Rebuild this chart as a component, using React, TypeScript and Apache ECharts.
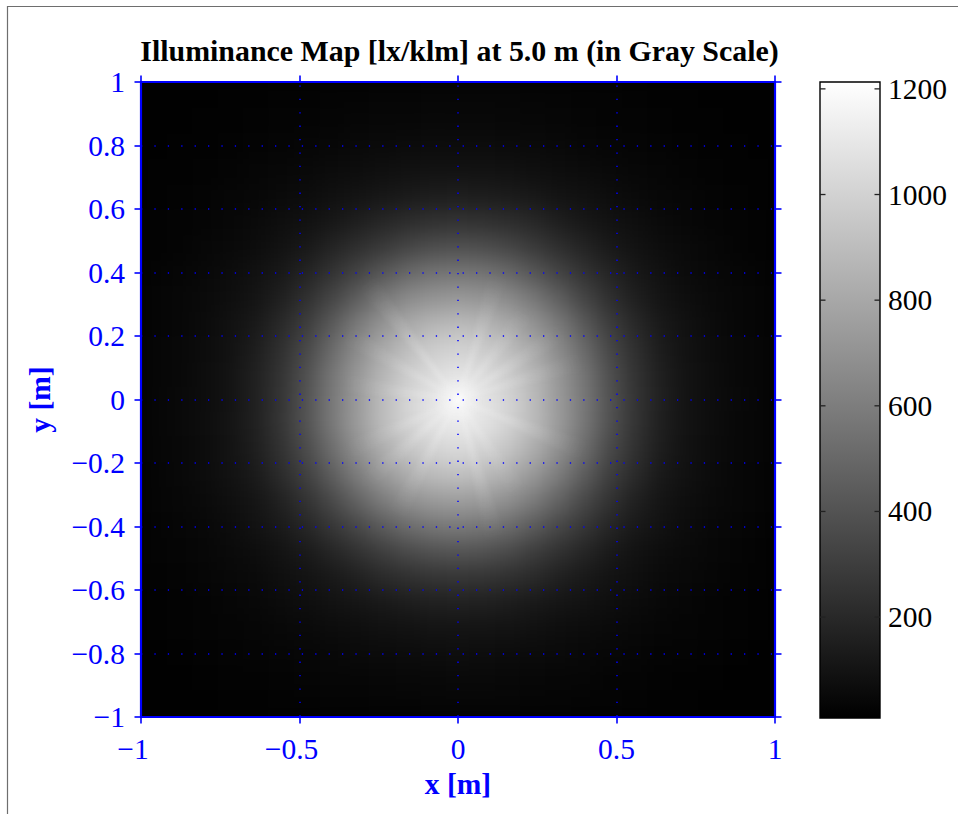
import React, { useEffect, useRef } from "react";
import * as echarts from "echarts";

const titleText = "Illuminance Map [lx/klm] at 5.0 m (in Gray Scale)";
const xName = "x [m]";
const yName = "y [m]";
const colorTicks = [200, 400, 600, 800, 1000, 1200];
const colorRange = [9, 1213];

// illuminance [lx/klm] sampled on a 25 x 25 raster, top row (y = +1) first, left to right
const illuminance: number[][] = [
  [13,14,15,17,18,22,25,27,29,31,33,35,36,36,35,33,31,29,27,24,20,17,15,14,13],
  [14,15,17,20,23,26,29,34,38,41,43,46,47,46,44,41,38,34,29,26,23,20,17,15,14],
  [15,17,20,25,29,33,38,44,51,58,62,65,66,65,63,58,52,44,38,33,29,25,20,17,15],
  [17,20,25,30,35,41,50,60,70,81,88,93,95,93,89,82,71,61,51,42,35,29,25,20,17],
  [19,23,29,36,43,55,68,85,100,117,133,146,150,147,135,120,100,87,70,56,44,36,29,23,19],
  [22,27,34,43,56,73,91,117,150,190,218,240,245,240,220,192,150,118,92,74,57,44,34,27,22],
  [25,30,40,53,68,92,124,174,225,280,335,372,385,372,338,282,226,176,125,93,69,54,40,30,25],
  [28,36,46,64,90,122,176,245,325,415,495,545,562,545,495,415,325,247,178,122,90,63,46,36,28],
  [31,40,56,76,104,155,230,330,450,570,660,705,725,708,662,572,452,332,232,156,104,74,55,40,31],
  [33,44,62,90,128,200,290,425,575,700,800,860,885,862,802,700,575,426,290,200,126,88,61,44,33],
  [36,46,66,96,145,230,345,505,660,800,905,970,1000,972,907,800,660,506,346,230,143,95,66,46,36],
  [37,49,69,100,158,252,382,556,715,865,975,1050,1090,1052,977,866,716,557,384,252,156,99,69,49,37],
  [37,50,70,101,160,254,396,570,730,890,1010,1090,1170,1090,1010,890,730,570,396,254,160,101,70,50,37],
  [37,50,70,102,162,260,395,570,735,890,1005,1085,1125,1085,1005,890,735,567,390,256,156,99,69,49,37],
  [36,47,67,98,150,238,358,520,680,825,935,1005,1040,1005,935,825,680,517,355,235,144,95,66,46,36],
  [34,46,64,92,134,212,305,445,590,720,825,890,915,890,825,720,590,442,302,208,128,89,61,44,33],
  [32,42,58,78,110,165,245,350,470,590,685,735,755,735,685,590,470,348,243,162,106,76,56,41,31],
  [29,38,48,66,95,130,190,265,345,440,520,565,585,565,520,440,345,262,186,128,92,65,47,37,28],
  [26,32,42,55,72,97,132,186,240,300,360,395,410,395,360,298,238,184,132,96,72,55,41,31,25],
  [23,28,36,45,58,78,98,126,160,205,235,260,265,258,236,205,160,126,98,78,58,45,35,28,22],
  [20,25,30,38,47,59,74,92,108,128,145,160,166,160,146,128,107,92,73,59,47,38,30,24,19],
  [18,22,26,31,38,45,55,66,77,88,96,102,105,103,97,89,77,66,55,46,38,31,26,21,17],
  [16,18,22,26,31,36,41,47,56,62,68,71,73,71,68,62,56,47,40,35,30,26,21,18,15],
  [15,16,18,21,24,28,31,36,39,43,46,49,51,50,47,43,39,35,30,27,23,20,17,15,14],
  [14,15,16,17,19,21,24,27,29,31,34,36,38,37,36,33,31,28,26,23,20,17,15,14,13],
];

// light rays leaving the centre of the spot
const rayAngles = [17, 33, 52, 72, 128, 150, 172, 205, 222, 242, 285, 303, 338];
const rayLengths = [0.42, 0.4, 0.36, 0.42, 0.48, 0.42, 0.38, 0.4, 0.4, 0.42, 0.46, 0.36, 0.44];
const rayStrengths = [0.2, 0.24, 0.24, 0.26, 0.26, 0.2, 0.2, 0.2, 0.24, 0.24, 0.26, 0.2, 0.24];
const glowRadius = 0.08;

const FONT = "Liberation Serif";
const BLUE = "#0000ff";
const PLOT = { left: 141, top: 82, width: 634, height: 635 };
const BAR = { left: 820, top: 82, width: 60, height: 636 };
const TICK_SIZE = 29.5;
const BAR_TICK_LEN = 5.5;

const signed = (v: number) => (v < 0 ? "\u2212" : "") + Math.abs(v);

const hiddenAxis = { type: "value", min: -1, max: 1, show: false };

const heatOption: any = {
  animation: false,
  backgroundColor: "#000",
  grid: { ...PLOT },
  xAxis: { type: "category", data: illuminance[0].map((_, i) => String(i)), show: false },
  yAxis: { type: "category", data: illuminance.map((_, i) => String(i)), show: false, inverse: true },
  visualMap: {
    show: false,
    min: colorRange[0],
    max: colorRange[1],
    dimension: 2,
    inRange: { color: ["#000000", "#ffffff"] },
  },
  series: [
    {
      type: "heatmap",
      data: illuminance.flatMap((row, j) => row.map((v, i) => [i, j, v])),
      itemStyle: { borderWidth: 0 },
    },
  ],
};

const rayOption: any = {
  animation: false,
  grid: { ...PLOT },
  xAxis: hiddenAxis,
  yAxis: hiddenAxis,
  series: [
    {
      type: "custom",
      clip: true,
      silent: true,
      data: rayAngles.map((a, i) => [a, rayLengths[i], rayStrengths[i]]),
      renderItem: (_: any, api: any) => {
        const a = (api.value(0) * Math.PI) / 180;
        const len = api.value(1);
        const o = api.coord([0, 0]);
        const tip = api.coord([len * Math.cos(a), len * Math.sin(a)]);
        const w = 0.032;
        const side1 = api.coord([len * Math.cos(a) - w * Math.sin(a), len * Math.sin(a) + w * Math.cos(a)]);
        const side2 = api.coord([len * Math.cos(a) + w * Math.sin(a), len * Math.sin(a) - w * Math.cos(a)]);
        const s = api.value(2);
        return {
          type: "polygon",
          shape: { points: [o, side1, side2] },
          style: {
            fill: new echarts.graphic.LinearGradient(
              o[0], o[1], tip[0], tip[1],
              [
                { offset: 0, color: `rgba(255,255,255,${s})` },
                { offset: 0.6, color: `rgba(255,255,255,${s * 0.3})` },
                { offset: 1, color: "rgba(255,255,255,0)" },
              ],
              true,
            ),
          },
        };
      },
    },
    {
      type: "custom",
      silent: true,
      data: [[0, 0, glowRadius]],
      renderItem: (_: any, api: any) => {
        const o = api.coord([api.value(0), api.value(1)]);
        const edge = api.coord([api.value(0) + api.value(2), api.value(1)]);
        const r = edge[0] - o[0];
        return {
          type: "circle",
          shape: { cx: o[0], cy: o[1], r },
          style: {
            fill: new echarts.graphic.RadialGradient(
              0.5, 0.5, 0.5,
              [
                { offset: 0, color: "rgba(255,255,255,0.85)" },
                { offset: 0.3, color: "rgba(255,255,255,0.3)" },
                { offset: 1, color: "rgba(255,255,255,0)" },
              ],
            ),
          },
        };
      },
    },
  ],
};

const plotTick = { show: true, inside: false, length: 6.5, lineStyle: { color: BLUE, width: 1.6 } };
const plotLine = { show: true, onZero: false, lineStyle: { color: BLUE, width: 2.2 } };

const axesOption: any = {
  animation: false,
  textStyle: { fontFamily: FONT },
  title: {
    text: titleText,
    left: 454.5,
    top: 30,
    textAlign: "center",
    textStyle: { fontFamily: FONT, fontSize: 29.9, fontWeight: "bold", color: "#000" },
  },
  grid: [
    { ...PLOT },
    { ...BAR },
  ],
  graphic: [
    {
      type: "polyline",
      shape: { points: [[7.5, 814], [7.5, 6.5], [958, 6.5]] },
      style: { stroke: "#6e6e6e", lineWidth: 1.2, fill: "none" },
      silent: true,
    },
  ],
  xAxis: [
    {
      gridIndex: 0,
      type: "value",
      position: "bottom",
      min: -1,
      max: 1,
      interval: 0.5,
      name: xName,
      nameLocation: "middle",
      nameGap: 52,
      nameTextStyle: { fontFamily: FONT, fontSize: TICK_SIZE, fontWeight: "bold", color: BLUE },
      axisLine: plotLine,
      axisTick: plotTick,
      axisLabel: {
        margin: 17,
        formatter: (v: number) => (v < 0 ? `{neg|${signed(v)}}` : `{pos|${signed(v)}}`),
        rich: {
          neg: { fontFamily: FONT, fontSize: TICK_SIZE, color: BLUE, padding: [0, 16, 0, 0] },
          pos: { fontFamily: FONT, fontSize: TICK_SIZE, color: BLUE },
        },
      },
      splitLine: {
        show: true,
        lineStyle: { color: BLUE, width: 1.5, type: [1.3, 12.1], dashOffset: 9.9 },
      },
    },
    {
      gridIndex: 0,
      type: "value",
      position: "top",
      min: -1,
      max: 1,
      interval: 0.5,
      axisLine: plotLine,
      axisTick: plotTick,
      axisLabel: { show: false },
      splitLine: { show: false },
    },
    { gridIndex: 1, type: "value", min: 0, max: 1, show: false },
  ],
  yAxis: [
    {
      gridIndex: 0,
      type: "value",
      position: "left",
      min: -1,
      max: 1,
      interval: 0.2,
      name: yName,
      nameLocation: "middle",
      nameGap: 86,
      nameTextStyle: { fontFamily: FONT, fontSize: TICK_SIZE, fontWeight: "bold", color: BLUE },
      axisLine: plotLine,
      axisTick: plotTick,
      axisLabel: {
        margin: 16,
        color: BLUE,
        fontFamily: FONT,
        fontSize: TICK_SIZE,
        verticalAlign: "middle",
        lineHeight: 30,
        padding: [3, 0, 0, 0],
        formatter: signed,
      },
      splitLine: {
        show: true,
        lineStyle: { color: BLUE, width: 1.5, type: [1.3, 12.1] },
      },
    },
    {
      gridIndex: 0,
      type: "value",
      position: "right",
      min: -1,
      max: 1,
      interval: 0.2,
      axisLine: plotLine,
      axisTick: plotTick,
      axisLabel: { show: false },
      splitLine: { show: false },
    },
    {
      gridIndex: 1,
      type: "value",
      position: "right",
      min: colorRange[0],
      max: colorRange[1],
      axisLine: { show: false },
      axisTick: { show: false },
      axisLabel: {
        margin: 8,
        color: "#000",
        fontFamily: FONT,
        fontSize: TICK_SIZE,
        customValues: colorTicks,
        formatter: (v: number) => String(v),
      },
      splitLine: { show: false },
    },
  ],
  series: [
    {
      type: "custom",
      xAxisIndex: 2,
      yAxisIndex: 2,
      silent: true,
      clip: false,
      z: 1,
      data: [[0, colorRange[0], 1, colorRange[1]]],
      renderItem: (_: any, api: any) => {
        const a = api.coord([api.value(0), api.value(3)]);
        const b = api.coord([api.value(2), api.value(1)]);
        return {
          type: "rect",
          shape: { x: a[0], y: a[1], width: b[0] - a[0], height: b[1] - a[1] },
          style: {
            fill: new echarts.graphic.LinearGradient(0, 0, 0, 1, [
              { offset: 0, color: "#ffffff" },
              { offset: 1, color: "#000000" },
            ]),
            stroke: "#000",
            lineWidth: 1.4,
          },
        };
      },
    },
    {
      type: "custom",
      xAxisIndex: 2,
      yAxisIndex: 2,
      silent: true,
      clip: false,
      z: 2,
      data: colorTicks.map((t) => [t]),
      renderItem: (_: any, api: any) => {
        const l = api.coord([0, api.value(0)]);
        const r = api.coord([1, api.value(0)]);
        const style = { stroke: "#222", lineWidth: 1.3 };
        return {
          type: "group",
          children: [
            { type: "line", shape: { x1: l[0], y1: l[1], x2: l[0] + BAR_TICK_LEN, y2: l[1] }, style },
            { type: "line", shape: { x1: r[0], y1: r[1], x2: r[0] - BAR_TICK_LEN, y2: r[1] }, style },
          ],
        };
      },
    },
  ],
};

const layer: React.CSSProperties = { position: "absolute", left: 0, top: 0, width: 958, height: 814 };

export default function App() {
  const heatRef = useRef<HTMLDivElement>(null);
  const rayRef = useRef<HTMLDivElement>(null);
  const axesRef = useRef<HTMLDivElement>(null);

  useEffect(() => {
    const charts = [
      [heatRef, heatOption],
      [rayRef, rayOption],
      [axesRef, axesOption],
    ].map(([ref, option]: any) => {
      const chart = echarts.init(ref.current, undefined, { renderer: "svg" });
      chart.setOption(option);
      return chart;
    });
    return () => charts.forEach((c) => c.dispose());
  }, []);

  return (
    <div style={{ position: "fixed", left: 0, top: 0, width: 958, height: 814, background: "#fff", overflow: "hidden" }}>
      <div ref={heatRef} style={{ ...layer, filter: "blur(10px)", clipPath: "inset(82px 183px 97px 141px)" }} />
      <div ref={rayRef} style={{ ...layer, filter: "blur(2px)" }} />
      <div ref={axesRef} style={layer} />
    </div>
  );
}
